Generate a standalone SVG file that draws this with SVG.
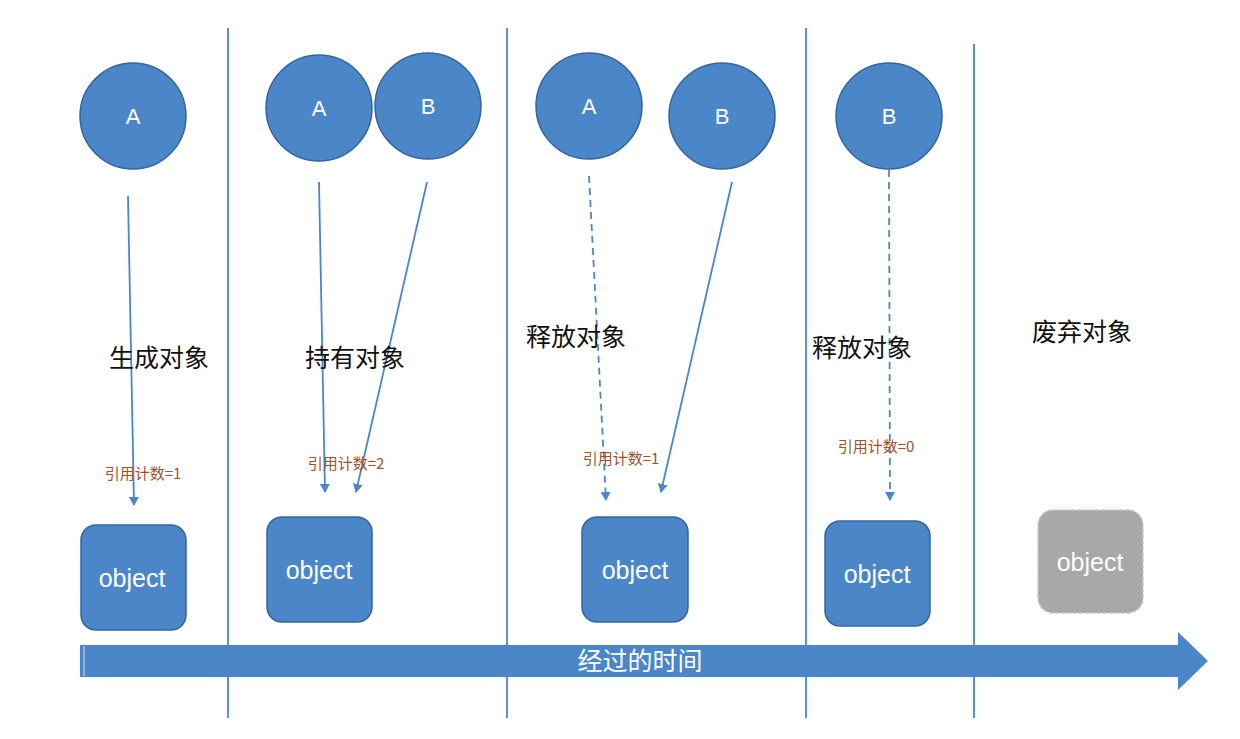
<svg xmlns="http://www.w3.org/2000/svg" width="1240" height="739" viewBox="0 0 1240 739">
<defs>
<style>
.node{fill:#4a86c8;stroke:#34659c;stroke-width:1.5}
.lbl{font-family:"Liberation Sans","Noto Sans",sans-serif;fill:#fff;text-anchor:middle}
.obj{font-size:25px}
.cjk{font-family:"Noto Sans CJK SC",sans-serif}
.div{stroke:#4a86c8;stroke-width:1.8}
.con{stroke:#4a86c8;stroke-width:1.8;fill:none}
.dash{stroke-dasharray:7 5}
.cnt{font-family:"Noto Sans CJK SC",sans-serif;font-size:15px;fill:#a0522d;text-anchor:middle}
.stage{font-family:"Noto Sans CJK SC",sans-serif;font-size:25px;fill:#111;text-anchor:middle}
</style>
<marker id="ah" markerWidth="10" markerHeight="10" refX="8" refY="5" orient="auto" markerUnits="userSpaceOnUse">
<path d="M0,0 L9,5 L0,10 z" fill="#4a86c8"/>
</marker>
</defs>
<rect width="1240" height="739" fill="#fff"/>
<g id="dividers">
<line class="div" x1="228" y1="28" x2="228" y2="718"/>
<line class="div" x1="507" y1="28" x2="507" y2="718"/>
<line class="div" x1="806" y1="28" x2="806" y2="718"/>
<line class="div" x1="974" y1="44" x2="974" y2="718"/>
</g>
<g id="timeline">
<path d="M80,645 L1178,645 L1178,632 L1208,661 L1178,690 L1178,677 L80,677 z" fill="#4a86c8"/>
<line x1="84" y1="646" x2="84" y2="676" stroke="#a9c6e8" stroke-width="1.5"/>
<text class="lbl cjk" x="640" y="670" font-size="25">经过的时间</text>
</g>
<g id="connectors">
<line class="con" x1="128" y1="196" x2="134" y2="505" marker-end="url(#ah)"/>
<line class="con" x1="319" y1="182" x2="325" y2="492" marker-end="url(#ah)"/>
<line class="con" x1="427" y1="182" x2="356" y2="492" marker-end="url(#ah)"/>
<line class="con dash" x1="589" y1="176" x2="606" y2="500" marker-end="url(#ah)"/>
<line class="con" x1="732" y1="182" x2="661" y2="492" marker-end="url(#ah)"/>
<line class="con dash" x1="889" y1="170" x2="890" y2="500" marker-end="url(#ah)"/>
</g>
<g id="stage1">
<g id="circleA1"><circle class="node" cx="133" cy="116" r="53"/><text class="lbl" x="133" y="124" font-size="22">A</text></g>
<text class="stage" x="159" y="367">生成对象</text>
<text class="cnt" x="143" y="479">引用计数=1</text>
<g id="object1"><rect class="node" x="81" y="525" width="105" height="105" rx="15"/><text class="lbl obj" x="132" y="587">object</text></g>
</g>
<g id="stage2">
<g id="circleA2"><circle class="node" cx="319" cy="108" r="53"/><text class="lbl" x="319" y="116" font-size="22">A</text></g>
<g id="circleB2"><circle class="node" cx="428" cy="106" r="53"/><text class="lbl" x="428" y="114" font-size="22">B</text></g>
<text class="stage" x="355" y="367">持有对象</text>
<text class="cnt" x="346" y="469">引用计数=2</text>
<g id="object2"><rect class="node" x="267" y="517" width="105" height="105" rx="15"/><text class="lbl obj" x="319" y="579">object</text></g>
</g>
<g id="stage3">
<g id="circleA3"><circle class="node" cx="589" cy="106" r="53"/><text class="lbl" x="589" y="114" font-size="22">A</text></g>
<g id="circleB3"><circle class="node" cx="722" cy="116" r="53"/><text class="lbl" x="722" y="124" font-size="22">B</text></g>
<text class="stage" x="576" y="346">释放对象</text>
<text class="cnt" x="621" y="464">引用计数=1</text>
<g id="object3"><rect class="node" x="582" y="517" width="106" height="105" rx="15"/><text class="lbl obj" x="635" y="579">object</text></g>
</g>
<g id="stage4">
<g id="circleB4"><circle class="node" cx="889" cy="116" r="53"/><text class="lbl" x="889" y="124" font-size="22">B</text></g>
<text class="stage" x="862" y="357">释放对象</text>
<text class="cnt" x="876" y="452">引用计数=0</text>
<g id="object4"><rect class="node" x="825" y="521" width="105" height="105" rx="15"/><text class="lbl obj" x="877" y="583">object</text></g>
</g>
<g id="stage5">
<text class="stage" x="1082" y="341">废弃对象</text>
<g id="object5"><rect x="1038" y="510" width="105" height="103" rx="15" fill="#a8a8a8" stroke="#c8c8c8" stroke-width="1.5" stroke-dasharray="4 2"/><text class="lbl obj" x="1090" y="571">object</text></g>
</g>
</svg>
